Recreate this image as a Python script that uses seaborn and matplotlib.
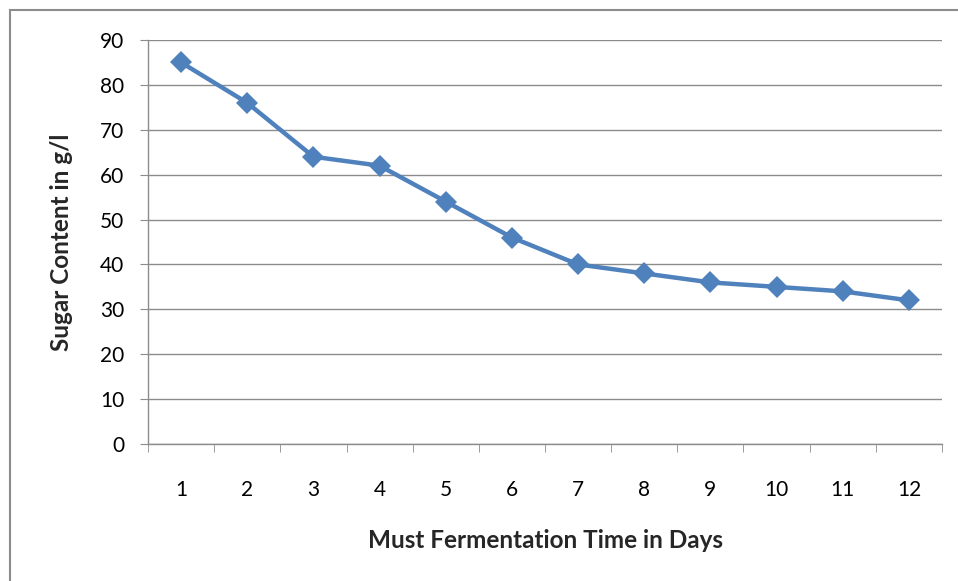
import matplotlib
matplotlib.use('Agg')
import matplotlib.pyplot as plt
import seaborn as sns
import pandas as pd
from matplotlib.patches import Rectangle

# data
days = [1, 2, 3, 4, 5, 6, 7, 8, 9, 10, 11, 12]
sugar = [85, 76, 64, 62, 54, 46, 40, 38, 36, 35, 34, 32]
yticks = [0, 10, 20, 30, 40, 50, 60, 70, 80, 90]

df = pd.DataFrame({'day': days, 'sugar': sugar})

sns.set_style('white')
plt.rcParams['font.family'] = ['Lato', 'DejaVu Sans']

fig = plt.figure(figsize=(9.58, 5.81), dpi=100)
ax = fig.add_axes([148/958, 1-444/581, 794/958, 404/581])

sns.lineplot(data=df, x='day', y='sugar', ax=ax, color='#4F81BD', linewidth=3.2,
             marker='D', markersize=11, markeredgewidth=0)

ax.set_xlim(0.5, 12.5)
ax.set_ylim(0, 90)
ax.set_yticks(yticks)
ax.set_xticks(days)
ax.set_xticks([d + 0.5 for d in [0] + days], minor=True)
ax.grid(axis='y', color='#8C8C8C', linewidth=1)
ax.set_axisbelow(True)

for s in ['top', 'right']:
    ax.spines[s].set_visible(False)
for s in ['left', 'bottom']:
    ax.spines[s].set_color('#8C8C8C')
    ax.spines[s].set_linewidth(1)

ax.tick_params(axis='y', which='major', length=6, color='#8C8C8C', pad=11,
               labelsize=15, labelcolor='#000000', left=True)
ax.tick_params(axis='x', which='major', length=0, pad=26, labelsize=15,
               labelcolor='#000000')
ax.tick_params(axis='x', which='minor', length=6, color='#8C8C8C', bottom=True)

ax.set_xlabel('')
ax.set_ylabel('')
fig.text(545/958, 1-540/581, 'Must Fermentation Time in Days', ha='center',
         va='center', fontsize=17.5, fontweight='bold')
fig.text(62/958, 1-242/581, 'Sugar Content in g/l', ha='center', va='center',
         rotation=90, fontsize=17.5, fontweight='bold')

fig.patches.append(Rectangle((10/958, -0.05), 1.0, 1 - 10/581 + 0.05,
                             transform=fig.transFigure, fill=False,
                             edgecolor='#8C8C8C', linewidth=1.5))

fig.savefig('out.png', dpi=100)
